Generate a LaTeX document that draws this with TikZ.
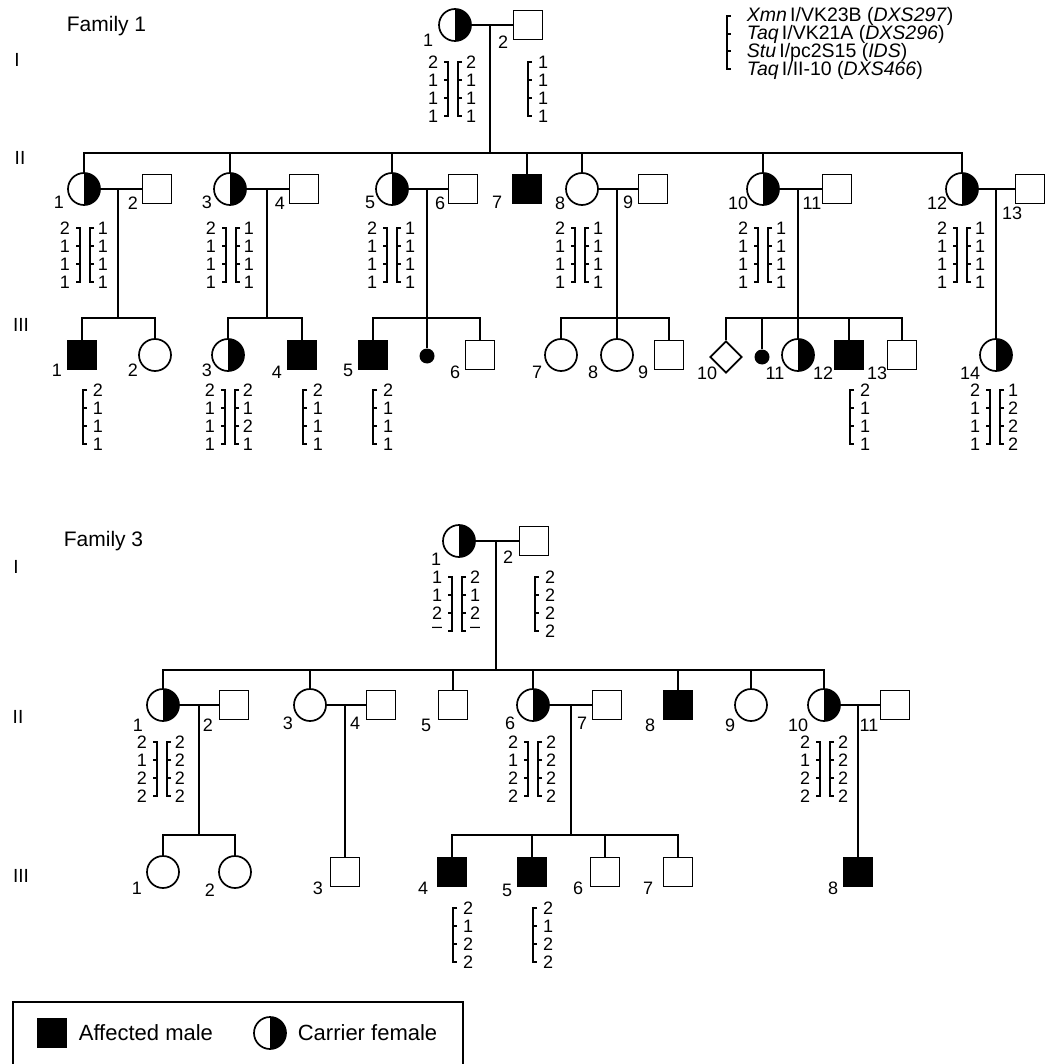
\documentclass[tikz,border=0pt]{standalone}
\usepackage{fontspec}
\setmainfont{Liberation Sans}
\usepackage{tikz}
\usetikzlibrary{shapes.geometric,calc}

% two haplotypes side by side: name, x, y of first row, left alleles, right alleles
\newcommand{\haplotwo}[5]{%
  \foreach \a [count=\i] in {#4}
    \node[allele] (#1l\i) at ({#2-20},{#3+18*(\i-1)}) {\a};
  \foreach \a [count=\i] in {#5}
    \node[allele] (#1r\i) at ({#2+18},{#3+18*(\i-1)}) {\a};
  \draw[brk] ({#2-9},#3) -- ({#2-5},#3) -- ({#2-5},{#3+54}) -- ({#2-9},{#3+54});
  \draw[brk] ({#2+9},#3) -- ({#2+5},#3) -- ({#2+5},{#3+54}) -- ({#2+9},{#3+54});
  \foreach \k in {18,36} {
    \draw[brk] ({#2-9},{#3+\k}) -- ({#2-5},{#3+\k});
    \draw[brk] ({#2+9},{#3+\k}) -- ({#2+5},{#3+\k});
  }%
}
% one haplotype: name, x of bracket, y of first row, alleles
\newcommand{\haploone}[4]{%
  \foreach \a [count=\i] in {#4}
    \node[allele] (#1s\i) at ({#2+15},{#3+18*(\i-1)}) {\a};
  \draw[brk] ({#2+4},#3) -- (#2,#3) -- (#2,{#3+54}) -- ({#2+4},{#3+54});
  \foreach \k in {18,36}
    \draw[brk] (#2,{#3+\k}) -- ({#2+4},{#3+\k});%
}
% missing allele
\newcommand{\noallele}{\raisebox{-2pt}{\smash{\textendash}}}

\begin{document}
\begin{tikzpicture}[
  x=1pt,y=-1pt,
  line width=1.7pt,
  male/.style={draw,rectangle,minimum size=29pt,inner sep=0pt},
  affected/.style={male,fill=black},
  female/.style={draw,circle,minimum size=32pt,inner sep=0pt},
  carrier/.style={female,path picture={\fill (path picture bounding box.north)
    rectangle (path picture bounding box.south east);}},
  unknown/.style={draw,diamond,minimum size=32pt,inner sep=0pt},
  lost/.style={circle,fill=black,minimum size=15pt,inner sep=0pt},
  idlab/.style={font=\fontsize{18}{18}\selectfont,inner sep=0pt},
  allele/.style={font=\fontsize{18}{18}\selectfont,inner sep=0pt},
  gen/.style={font=\fontsize{19}{19}\selectfont,inner sep=0pt},
  title/.style={font=\fontsize{21}{21}\selectfont,inner sep=0pt,anchor=west},
  marker/.style={font=\fontsize{19.5}{19.5}\selectfont,inner sep=0pt,anchor=west},
  brk/.style={line width=1.1pt},
]
\useasboundingbox (0,0) rectangle (1057,1064);

% Family 1
\node[title] (fam1) at (66,26) {Family 1};
\node[gen] (f1g1) at (17,60) {I};
\node[gen] (f1g2) at (20,158) {II};
\node[gen] (f1g3) at (21,325) {III};

% markers
\node[marker] (mk1) at (746,16) {\textit{Xmn}\,I/VK23B (\textit{DXS297})};
\node[marker] (mk2) at (746,34) {\textit{Taq}\,I/VK21A (\textit{DXS296})};
\node[marker] (mk3) at (746,52) {\textit{Stu}\,I/pc2S15 (\textit{IDS})};
\node[marker] (mk4) at (746,70) {\textit{Taq}\,I/II-10 (\textit{DXS466})};
\draw[brk] (731,16) -- (727,16) -- (727,69) -- (731,69);
\draw[brk] (727,34) -- (731,34);
\draw[brk] (727,51) -- (731,51);

% generation I
\node[carrier] (f1i1) at (455,25) {};
\node[male] (f1i2) at (528,25) {};
\node[idlab] (f1i1n) at (428,40) {1};
\node[idlab] (f1i2n) at (503,42) {2};
\coordinate (f1m0) at (490,25);
\coordinate (f1j0) at (490,153);
\draw (f1i1) -- (f1i2);
\draw (f1m0) -- (f1j0);
\haplotwo{f1hi1}{453}{62}{2,1,1,1}{2,1,1,1}
\haploone{f1hi2}{528}{62}{1,1,1,1}

% generation II
\node[carrier] (f1ii1) at (84,189) {};
\node[male] (f1ii2) at (157,189) {};
\node[carrier] (f1ii3) at (230,189) {};
\node[male] (f1ii4) at (304,189) {};
\node[carrier] (f1ii5) at (392,189) {};
\node[male] (f1ii6) at (463,189) {};
\node[affected] (f1ii7) at (527,189) {};
\node[female] (f1ii8) at (582,189) {};
\node[male] (f1ii9) at (653,189) {};
\node[carrier] (f1ii10) at (763,189) {};
\node[male] (f1ii11) at (837,189) {};
\node[carrier] (f1ii12) at (962,189) {};
\node[male] (f1ii13) at (1030,189) {};
\foreach \p/\x/\y in {1/59/202,2/133/203,3/207/202,4/280/203,5/370/202,6/440/203,
    7/497/202,8/560/203,9/628/202,10/738/203,11/812/203,12/937/203,13/1012/213}
  \node[idlab] (f1ii\p n) at (\x,\y) {\p};
\foreach \c in {f1ii1,f1ii3,f1ii5,f1ii7,f1ii8,f1ii10,f1ii12}
  \draw (f1j0) -| (\c);

\draw (f1ii1) -- (f1ii2);
\draw (f1ii3) -- (f1ii4);
\draw (f1ii5) -- (f1ii6);
\draw (f1ii8) -- (f1ii9);
\draw (f1ii10) -- (f1ii11);
\draw (f1ii12) -- (f1ii13);
\coordinate (f1m1) at (118,189);  \coordinate (f1j1) at (118,318);
\coordinate (f1m3) at (267,189);  \coordinate (f1j3) at (267,318);
\coordinate (f1m5) at (427,189);  \coordinate (f1j5) at (427,318);
\coordinate (f1m8) at (617,189);  \coordinate (f1j8) at (617,318);
\coordinate (f1m10) at (798,189); \coordinate (f1j10) at (798,318);
\coordinate (f1m12) at (996,189);
\foreach \k in {1,3,5,8,10}
  \draw (f1m\k) -- (f1j\k);

\haplotwo{f1hii1}{85}{228}{2,1,1,1}{1,1,1,1}
\haplotwo{f1hii3}{231}{228}{2,1,1,1}{1,1,1,1}
\haplotwo{f1hii5}{392}{228}{2,1,1,1}{1,1,1,1}
\haplotwo{f1hii8}{580}{228}{2,1,1,1}{1,1,1,1}
\haplotwo{f1hii10}{763}{228}{2,1,1,1}{1,1,1,1}
\haplotwo{f1hii12}{962}{228}{2,1,1,1}{1,1,1,1}

% generation III
\node[affected] (f1iii1) at (82,355) {};
\node[female] (f1iii2) at (155,355) {};
\node[carrier] (f1iii3) at (228,355) {};
\node[affected] (f1iii4) at (302,355) {};
\node[affected] (f1iii5) at (373,355) {};
\node[lost] (f1x1) at (427,356) {};
\node[male] (f1iii6) at (480,355) {};
\node[female] (f1iii7) at (561,355) {};
\node[female] (f1iii8) at (617,355) {};
\node[male] (f1iii9) at (669,355) {};
\node[unknown] (f1iii10) at (726,357) {};
\node[lost] (f1x2) at (762,357) {};
\node[carrier] (f1iii11) at (798,355) {};
\node[affected] (f1iii12) at (849,355) {};
\node[male] (f1iii13) at (902,355) {};
\node[carrier] (f1iii14) at (996,355) {};
\foreach \p/\x/\y in {1/57/370,2/133/370,3/207/370,4/277/372,5/348/370,6/455/372,
    7/537/372,8/593/372,9/643/372,10/707/373,11/775/373,12/823/373,13/877/373,14/970/373}
  \node[idlab] (f1iii\p n) at (\x,\y) {\p};

\foreach \c in {f1iii1,f1iii2}
  \draw (f1j1) -| (\c);
\foreach \c in {f1iii3,f1iii4}
  \draw (f1j3) -| (\c);
\foreach \c in {f1iii5,f1x1,f1iii6}
  \draw (f1j5) -| (\c);
\foreach \c in {f1iii7,f1iii8,f1iii9}
  \draw (f1j8) -| (\c);
\foreach \c in {f1iii10,f1x2,f1iii11,f1iii12,f1iii13}
  \draw (f1j10) -| (\c);
\draw (f1m12) -- (f1iii14);

\haploone{f1hiii1}{83}{390}{2,1,1,1}
\haplotwo{f1hiii3}{230}{390}{2,1,1,1}{2,1,2,1}
\haploone{f1hiii4}{303}{390}{2,1,1,1}
\haploone{f1hiii5}{373}{390}{2,1,1,1}
\haploone{f1hiii12}{850}{390}{2,1,1,1}
\haplotwo{f1hiii14}{995}{390}{2,1,1,1}{1,2,2,2}

% Family 3
\node[title] (fam3) at (63,541) {Family 3};
\node[gen] (f3g1) at (16,567) {I};
\node[gen] (f3g2) at (18,717) {II};
\node[gen] (f3g3) at (21,876) {III};

% generation I
\node[carrier] (f3i1) at (459,541) {};
\node[male] (f3i2) at (534,541) {};
\node[idlab] (f3i1n) at (436,559) {1};
\node[idlab] (f3i2n) at (508,557) {2};
\coordinate (f3m0) at (496,541);
\coordinate (f3j0) at (496,670);
\draw (f3i1) -- (f3i2);
\draw (f3m0) -- (f3j0);
\haplotwo{f3hi1}{457}{577}{1,1,2,\noallele}{2,1,2,\noallele}
\haploone{f3hi2}{535}{577}{2,2,2,2}

% generation II
\node[carrier] (f3ii1) at (163,705) {};
\node[male] (f3ii2) at (234,705) {};
\node[female] (f3ii3) at (310,705) {};
\node[male] (f3ii4) at (381,705) {};
\node[male] (f3ii5) at (453,705) {};
\node[carrier] (f3ii6) at (533,705) {};
\node[male] (f3ii7) at (607,705) {};
\node[affected] (f3ii8) at (678,705) {};
\node[female] (f3ii9) at (751,705) {};
\node[carrier] (f3ii10) at (824,705) {};
\node[male] (f3ii11) at (895,705) {};
\foreach \p/\x/\y in {1/138/725,2/208/725,3/288/723,4/355/723,5/426/725,6/510/723,
    7/582/723,8/650/725,9/730/725,10/798/725,11/869/725}
  \node[idlab] (f3ii\p n) at (\x,\y) {\p};
\foreach \c in {f3ii1,f3ii3,f3ii5,f3ii6,f3ii8,f3ii9,f3ii10}
  \draw (f3j0) -| (\c);

\draw (f3ii1) -- (f3ii2);
\draw (f3ii3) -- (f3ii4);
\draw (f3ii6) -- (f3ii7);
\draw (f3ii10) -- (f3ii11);
\coordinate (f3m1) at (199,705); \coordinate (f3j1) at (199,835);
\coordinate (f3m3) at (345,705);
\coordinate (f3m6) at (571,705); \coordinate (f3j6) at (571,835);
\coordinate (f3m10) at (858,705);
\draw (f3m1) -- (f3j1);
\draw (f3m6) -- (f3j6);

\haplotwo{f3hii1}{162}{742}{2,1,2,2}{2,2,2,2}
\haplotwo{f3hii6}{533}{742}{2,1,2,2}{2,2,2,2}
\haplotwo{f3hii10}{825}{742}{2,1,2,2}{2,2,2,2}

% generation III
\node[female] (f3iii1) at (163,872) {};
\node[female] (f3iii2) at (235,872) {};
\node[male] (f3iii3) at (345,872) {};
\node[affected] (f3iii4) at (452,872) {};
\node[affected] (f3iii5) at (532,872) {};
\node[male] (f3iii6) at (605,872) {};
\node[male] (f3iii7) at (678,872) {};
\node[affected] (f3iii8) at (858,872) {};
\foreach \p/\x/\y in {1/137/888,2/210/890,3/318/888,4/423/888,5/507/890,6/578/888,
    7/648/888,8/833/888}
  \node[idlab] (f3iii\p n) at (\x,\y) {\p};

\foreach \c in {f3iii1,f3iii2}
  \draw (f3j1) -| (\c);
\foreach \c in {f3iii4,f3iii5,f3iii6,f3iii7}
  \draw (f3j6) -| (\c);
\draw (f3m3) -- (f3iii3);
\draw (f3m10) -- (f3iii8);

\haploone{f3hiii4}{453}{908}{2,1,2,2}
\haploone{f3hiii5}{533}{908}{2,1,2,2}

% key
\draw (13,1064) |- (463,1002) -- (463,1064);
\node[affected] (keym) at (52,1033) {};
\node[title,font=\fontsize{22}{22}\selectfont] (keymt) at (78,1033) {Affected male};
\node[carrier] (keyf) at (270,1033) {};
\node[title,font=\fontsize{22}{22}\selectfont] (keyft) at (297,1033) {Carrier female};

\end{tikzpicture}
\end{document}
